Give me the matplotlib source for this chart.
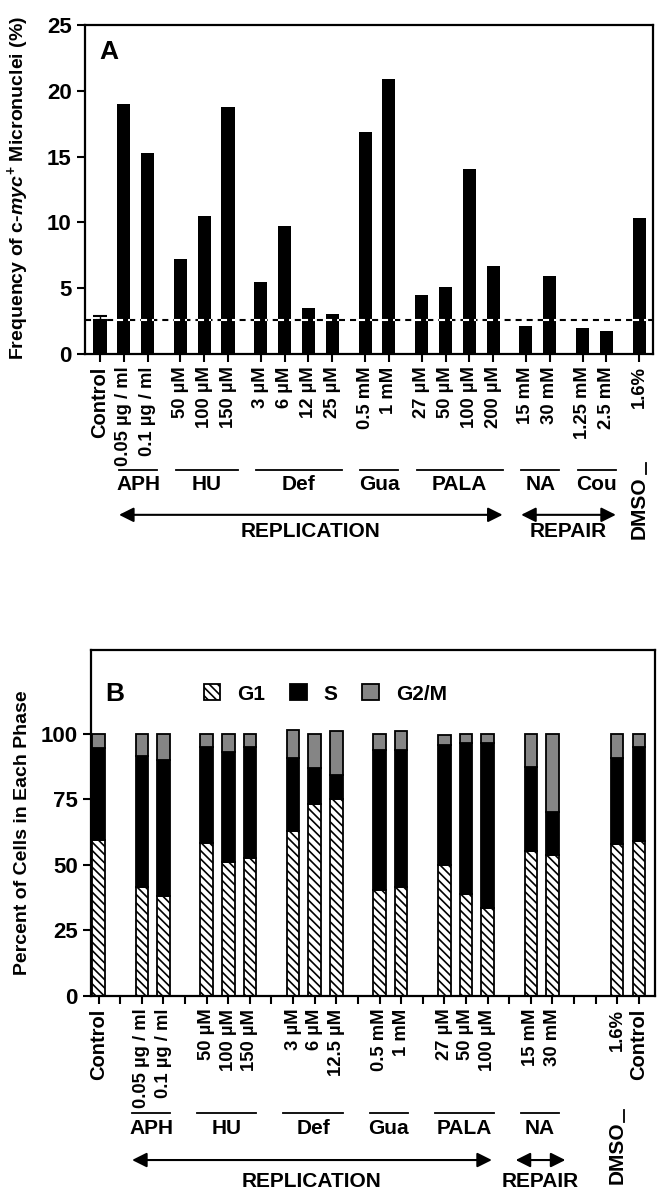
import numpy as np
import matplotlib
matplotlib.use('Agg')
import matplotlib.pyplot as plt
import matplotlib.transforms as mtransforms

# Fonts: bold Helvetica-like everywhere
plt.rcParams['font.family'] = ['Liberation Sans', 'DejaVu Sans']
plt.rcParams['font.weight'] = 'bold'
plt.rcParams['axes.labelweight'] = 'bold'
plt.rcParams['mathtext.fontset'] = 'custom'
plt.rcParams['mathtext.rm'] = 'Liberation Sans:bold'
plt.rcParams['mathtext.it'] = 'Liberation Sans:italic:bold'
plt.rcParams['mathtext.bf'] = 'Liberation Sans:bold'
plt.rcParams['hatch.linewidth'] = 1.2

# ---- Panel A data ----
labels_a = ['Control', '0.05 µg / ml', '0.1 µg / ml', '50 µM', '100 µM', '150 µM',
            '3 µM', '6 µM', '12 µM', '25 µM', '0.5 mM', '1 mM',
            '27 µM', '50 µM', '100 µM', '200 µM', '15 mM', '30 mM',
            '1.25 mM', '2.5 mM', '1.6%']
groups_a = ['Control', 'APH', 'APH', 'HU', 'HU', 'HU', 'Def', 'Def', 'Def', 'Def',
            'Gua', 'Gua', 'PALA', 'PALA', 'PALA', 'PALA', 'NA', 'NA', 'Cou', 'Cou', 'DMSO']
freq_a = [2.55, 19.0, 15.3, 7.2, 10.5, 18.75, 5.5, 9.75, 3.5, 3.0, 16.9, 20.9,
          4.45, 5.05, 14.05, 6.7, 2.1, 5.95, 2.0, 1.75, 10.35]
control_err_a = 0.35

# ---- Panel B data (blank slots between groups) ----
labels_b = ['Control', '', '0.05 µg / ml', '0.1 µg / ml', '', '50 µM', '100 µM', '150 µM',
            '', '3 µM', '6 µM', '12.5 µM', '', '0.5 mM', '1 mM', '',
            '27 µM', '50 µM', '100 µM', '', '15 mM', '30 mM', '', '', '1.6%', 'Control']
groups_b = ['Control', '', 'APH', 'APH', '', 'HU', 'HU', 'HU', '', 'Def', 'Def', 'Def', '',
            'Gua', 'Gua', '', 'PALA', 'PALA', 'PALA', '', 'NA', 'NA', '', '', 'DMSO', 'Control']
nan = np.nan
g1_b = [59.5, nan, 41.5, 38.2, nan, 58.2, 51.3, 52.6, nan, 62.8, 73.2, 75.0, nan,
        40.4, 41.7, nan, 50.1, 39.0, 33.5, nan, 55.2, 53.9, nan, nan, 57.8, 59.1]
s_b = [35.1, nan, 50.2, 51.8, nan, 36.8, 41.8, 42.4, nan, 27.9, 13.7, 9.2, nan,
       53.6, 52.3, nan, 45.8, 57.6, 63.1, nan, 32.3, 16.3, nan, nan, 32.9, 35.9]
g2m_b = [5.4, nan, 8.3, 10.0, nan, 5.0, 6.9, 5.0, nan, 10.8, 13.1, 16.8, nan,
         6.0, 7.0, nan, 3.6, 3.4, 3.4, nan, 12.5, 29.8, nan, nan, 9.3, 5.0]


def style_axes(ax):
    for sp in ax.spines.values():
        sp.set_linewidth(1.6)
    ax.tick_params(direction='out', length=6, width=1.5, labelsize=16)
    ax.tick_params(axis='x', pad=3)


def set_xlabels(ax, pos, labels):
    ax.set_xticks(pos)
    ax.set_xticklabels(labels, rotation=90, va='top', ha='center')
    for t in ax.get_xticklabels():
        t.set_fontsize(14.5 if t.get_text() == 'Control' else 13.3)


def group_spans(pos, groups, names):
    spans = {}
    for p, g in zip(pos, groups):
        if g in names:
            lo, hi = spans.get(g, (p, p))
            spans[g] = (min(lo, p), max(hi, p))
    return spans


def draw_groups(ax, spans, y_line, y_name, pad_l, pad_r):
    trans = mtransforms.blended_transform_factory(ax.transData, ax.transAxes)
    for name, (lo, hi) in spans.items():
        x0, x1 = lo - pad_l, hi + pad_r
        ax.plot([x0, x1], [y_line, y_line], color='black', lw=1.3,
                transform=trans, clip_on=False)
        ax.text((x0 + x1) / 2, y_name, name, transform=trans, ha='center',
                va='center', fontsize=15)


def draw_arrow(ax, x0, x1, y, label, y_label):
    trans = mtransforms.blended_transform_factory(ax.transData, ax.transAxes)
    ax.annotate('', xy=(x1, y), xytext=(x0, y), xycoords=trans, textcoords=trans,
                arrowprops=dict(arrowstyle='<|-|>', color='black', lw=1.5,
                                mutation_scale=22, shrinkA=0, shrinkB=0),
                annotation_clip=False)
    ax.text((x0 + x1) / 2, y_label, label, transform=trans, ha='center',
            va='center', fontsize=15)


def draw_dmso(ax, x, y_line0, y_line1, y_text):
    trans = mtransforms.blended_transform_factory(ax.transData, ax.transAxes)
    ax.plot([x + 0.3, x + 0.3], [y_line0, y_line1], color='black', lw=1.3,
            transform=trans, clip_on=False)
    ax.text(x, y_text, 'DMSO', transform=trans, rotation=90, ha='center',
            va='center', fontsize=15)


fig = plt.figure(figsize=(6.62, 11.99), dpi=100)

# ================= Panel A =================
axA = fig.add_axes([0.1284, 0.7048, 0.858, 0.2744])

# positions: unit step inside a group, extra gap between groups
pos_a = []
x = 0.0
for i, g in enumerate(groups_a):
    if i > 0:
        x += 1.0
        if g != groups_a[i - 1] and groups_a[i - 1] != 'Control':
            x += 0.38
    pos_a.append(x)
pos_a = np.array(pos_a)
bar_w_a = 0.55

level = freq_a[0]
axA.axhline(level, color='black', lw=1.5, linestyle=(0, (2.9, 2.4)), zorder=1)
axA.bar(pos_a, freq_a, width=bar_w_a, color='black', zorder=2)
# dashed line shows white over the bars
for p, v in zip(pos_a, freq_a):
    if v > level + 0.1:
        axA.hlines(level, p - bar_w_a / 2, p + bar_w_a / 2, colors='white',
                   lw=1.5, linestyles=(0, (2.9, 2.4)), zorder=3)
axA.errorbar(pos_a[0], freq_a[0], yerr=[[0], [control_err_a]], fmt='none',
             ecolor='black', capsize=5, elinewidth=1, capthick=1.5, zorder=3)

axA.set_ylim(0, 25)
axA.set_yticks([0, 5, 10, 15, 20, 25])
axA.set_xlim(-0.63, 23.24)
style_axes(axA)
set_xlabels(axA, pos_a, labels_a)
axA.set_ylabel('Frequency of c-$\\mathit{myc}^{+}$ Micronuclei (%)', fontsize=14)
axA.yaxis.set_label_coords(-0.095, 0.505)
axA.text(0.026, 0.918, 'A', transform=axA.transAxes, fontsize=19,
         ha='left', va='center')

spans_a = group_spans(pos_a, groups_a, ['APH', 'HU', 'Def', 'Gua', 'PALA', 'NA', 'Cou'])
draw_groups(axA, spans_a, -0.353, -0.398, 0.2, 0.4)
draw_arrow(axA, spans_a['APH'][0] - 0.2, spans_a['PALA'][1] + 0.4, -0.489,
           'REPLICATION', -0.541)
draw_arrow(axA, spans_a['NA'][0] - 0.2, spans_a['Cou'][1] + 0.4, -0.489,
           'REPAIR', -0.541)
draw_dmso(axA, pos_a[-1], -0.331, -0.365, -0.468)

# ================= Panel B =================
axB = fig.add_axes([0.1375, 0.1693, 0.852, 0.2886])
pos_b = np.arange(len(labels_b))
bar_w_b = 0.58
g1 = np.array(g1_b)
s = np.array(s_b)
g2m = np.array(g2m_b)

axB.bar(pos_b, g1, width=bar_w_b, color='white', edgecolor='black', lw=1.3,
        hatch='\\\\\\\\', label='G1', zorder=2)
axB.bar(pos_b, s, bottom=g1, width=bar_w_b, color='black', edgecolor='black',
        lw=1.3, label='S', zorder=2)
axB.bar(pos_b, g2m, bottom=g1 + s, width=bar_w_b, color='#858585',
        edgecolor='black', lw=1.3, label='G2/M', zorder=2)

axB.set_ylim(0, 132)
axB.set_yticks([0, 25, 50, 75, 100])
axB.set_xlim(-0.35, 25.75)
style_axes(axB)
set_xlabels(axB, pos_b, labels_b)
axB.set_ylabel('Percent of Cells in Each Phase', fontsize=14)
axB.yaxis.set_label_coords(-0.106, 0.471)
axB.text(0.025, 0.873, 'B', transform=axB.transAxes, fontsize=19,
         ha='left', va='center')
axB.legend(loc='center left', bbox_to_anchor=(0.2, 0.873), ncol=3, frameon=False,
           fontsize=15, handlelength=0.8, handleheight=0.8, handletextpad=0.8,
           columnspacing=1.2, borderpad=0, borderaxespad=0)

spans_b = group_spans(pos_b, groups_b, ['APH', 'HU', 'Def', 'Gua', 'PALA', 'NA'])
draw_groups(axB, spans_b, -0.338, -0.384, 0.45, 0.3)
draw_arrow(axB, spans_b['APH'][0] - 0.45, spans_b['PALA'][1] + 0.2, -0.474,
           'REPLICATION', -0.535)
draw_arrow(axB, spans_b['NA'][0] - 0.7, spans_b['NA'][1] + 0.6, -0.474,
           'REPAIR', -0.535)
draw_dmso(axB, pos_b[groups_b.index('DMSO')], -0.329, -0.364, -0.454)

fig.savefig('out.png', dpi=100)
